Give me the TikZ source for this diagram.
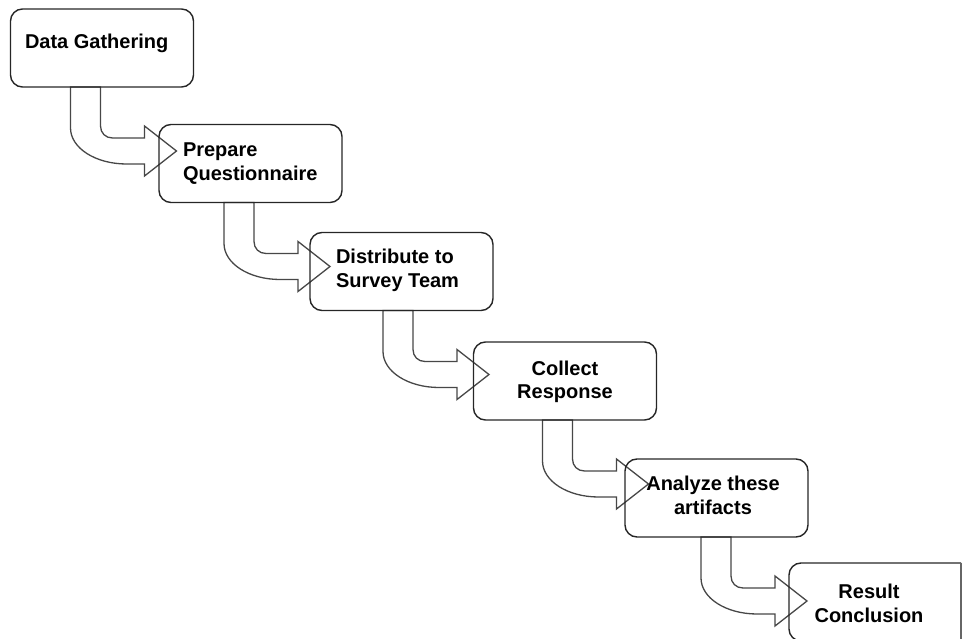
\documentclass[tikz,border=0pt]{standalone}
\usepackage{fontspec}
\setmainfont{Liberation Sans}
\usetikzlibrary{calc}
\pgfdeclarelayer{bg}
\pgfsetlayers{bg,main}
\tikzset{
  box/.style={draw=black!85, line width=1.4pt, rounded corners=12pt,
    minimum width=183pt, minimum height=78pt, inner sep=0pt, outer sep=0pt},
  boxline/.style={draw=black!85, line width=1.4pt},
  bent/.style={draw=black!72, line width=1.3pt, fill=white, line join=miter},
  lbl/.style={inner sep=0pt, outer sep=0pt, text=black,
    font=\bfseries\fontsize{20}{24}\selectfont},
}
\newcommand\bentarrow[2]{%
  \begin{scope}[shift={($(#1.south west)+(#2,0)$)}]
    \path[bent] (0,0) -- (30,0) -- (30,39)
      .. controls (30,46) and (35,51) .. (42,51) -- (74,51) -- (74,39)
      -- (106,64) -- (74,89) -- (74,77) -- (56,77)
      .. controls (25,77) and (0,61) .. (0,41) -- cycle;
  \end{scope}}
\begin{document}
\begin{tikzpicture}[x=1pt,y=-1pt]
\useasboundingbox (0,0) rectangle (962,639);
\clip (0,0) rectangle (962,639);
% boxes
\node[box] (b1) at (102,48) {};
\node[box] (b2) at (250.5,163.5) {};
\node[box] (b3) at (401.5,271.5) {};
\node[box] (b4) at (565,381) {};
\node[box] (b5) at (716.5,498) {};
\node[box, draw=none, minimum width=172pt] (b6) at (875,602) {};
\draw[boxline, rounded corners=12pt] (b6.north east) -- (b6.north west) -- (b6.south west) -- (b6.south east);
\draw[boxline, draw=black!60] (b6.north east) -- (b6.south east);
% labels
\node[lbl, anchor=base west] (t1) at (25,49) {Data Gathering};
\node[lbl, anchor=base west] (t2) at (183,157) {\begin{tabular}[t]{@{}l@{}}Prepare\\Questionnaire\end{tabular}};
\node[lbl, anchor=base west] (t3) at (336,264) {\begin{tabular}[t]{@{}l@{}}Distribute to\\Survey Team\end{tabular}};
\node[lbl, anchor=base] (t4) at (565,375) {\begin{tabular}[t]{@{}c@{}}Collect\\Response\end{tabular}};
\node[lbl, anchor=base] (t5) at (713,490) {\begin{tabular}[t]{@{}c@{}}Analyze these\\artifacts\end{tabular}};
\node[lbl, anchor=base] (t6) at (869,598) {\begin{tabular}[t]{@{}c@{}}Result\\Conclusion\end{tabular}};
% bent arrows
\begin{pgfonlayer}{bg}
\bentarrow{b1}{60}
\bentarrow{b2}{65}
\bentarrow{b3}{73}
\bentarrow{b4}{69}
\bentarrow{b5}{76}
\end{pgfonlayer}
\end{tikzpicture}
\end{document}
